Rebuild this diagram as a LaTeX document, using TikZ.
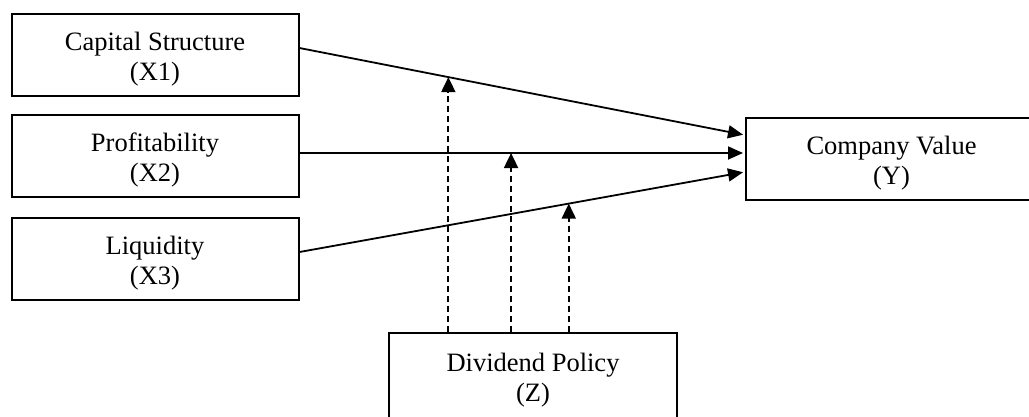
\documentclass[tikz,border=0pt]{standalone}
\usepackage{fontspec}
\setmainfont{Liberation Serif}
\usetikzlibrary{arrows.meta,calc}
\newcommand\firststrut{\rule{0pt}{27pt}}
\begin{document}
\begin{tikzpicture}[x=1pt,y=-1pt,
  box/.style={draw, line width=2pt, minimum width=287pt, minimum height=82pt,
    inner sep=0pt, align=center, font=\fontsize{26.5}{30}\selectfont},
  link/.style={line width=1.8pt, -{Triangle[length=15pt,width=13pt]}, shorten >=1.5pt},
  moder/.style={line width=1.8pt, dash pattern=on 6pt off 4pt, -{Triangle[length=15pt,width=14pt]}}]
\clip (0,0) rectangle (1029,416);
\node[box] (x1) at (155,54.5) {\firststrut Capital Structure\\(X1)};
\node[box] (x2) at (155,156) {\firststrut Profitability\\(X2)};
\node[box] (x3) at (155,258.5) {\firststrut Liquidity\\(X3)};
\node[box, minimum width=292pt] (y) at (891.5,158.5) {\firststrut Company Value\\(Y)};
\node[box, minimum width=288pt, minimum height=86pt] (z) at (533,376) {\firststrut Dividend Policy\\(Z)};
\draw[link] ([yshift=6.5pt]x1.east) -- coordinate[pos=0.3345] (m1) ([yshift=23.5pt]y.west);
\draw[link] ([yshift=3pt]x2.east) -- coordinate[pos=0.4754] (m2) ([yshift=5.5pt]y.west);
\draw[link] ([yshift=6.5pt]x3.east) -- coordinate[pos=0.6051] (m3) ([yshift=-13.5pt]y.west);
\draw[moder] (z.north -| m1) -- (m1);
\draw[moder] (z.north -| m2) -- (m2);
\draw[moder] (z.north -| m3) -- (m3);
\end{tikzpicture}
\end{document}
